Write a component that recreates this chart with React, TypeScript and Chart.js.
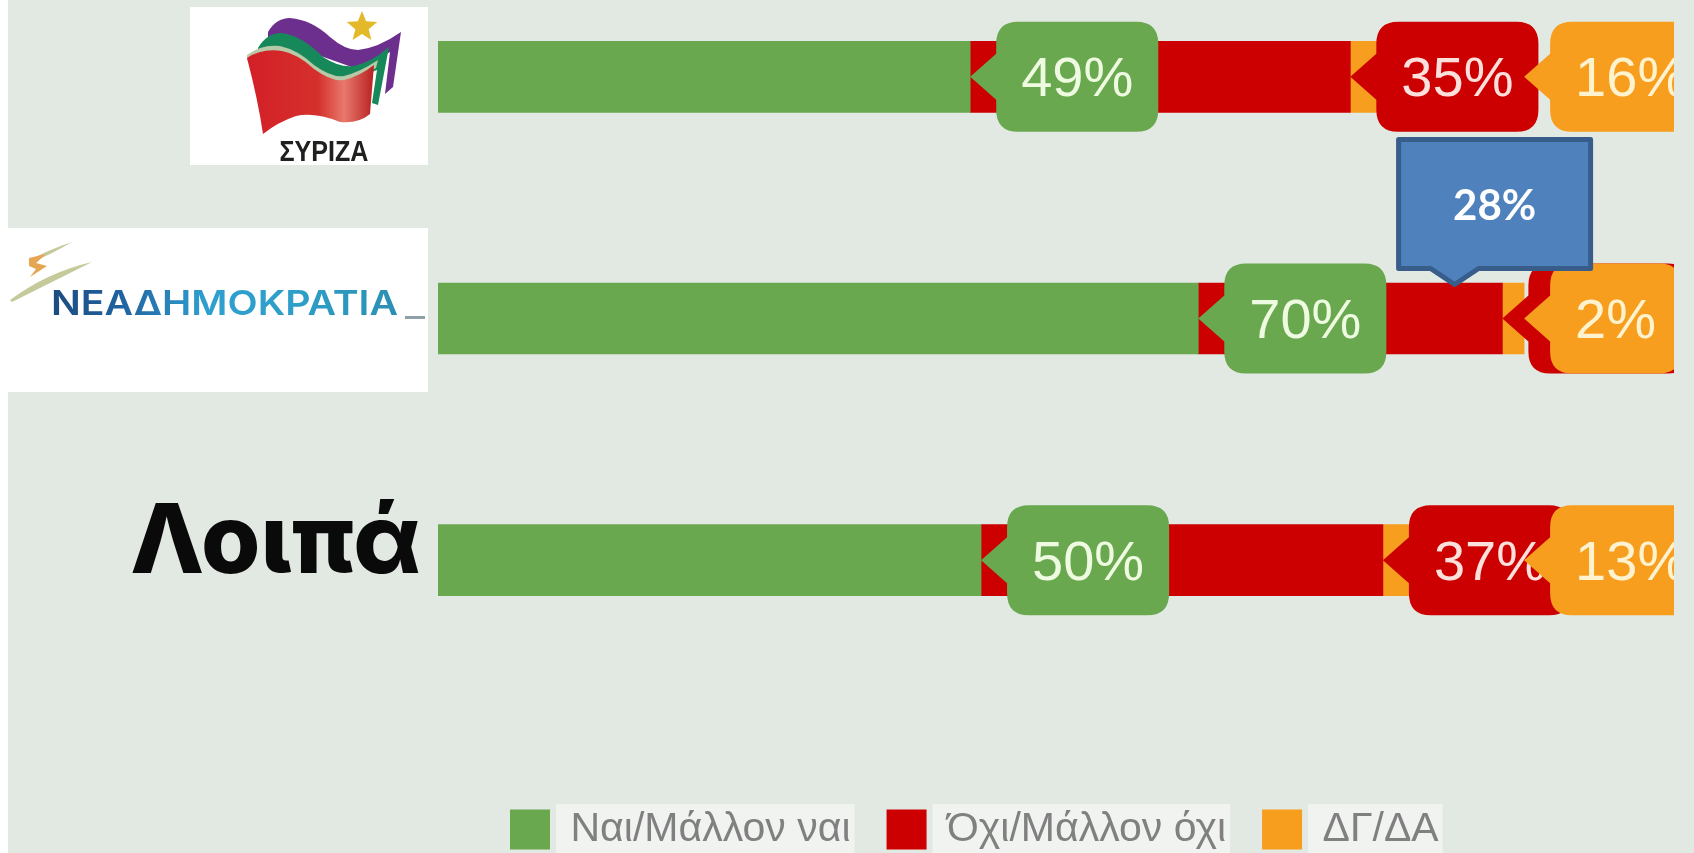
import React, { useEffect, useRef } from "react";
import { Chart, registerables } from "chart.js";

Chart.register(...registerables);

const categories = ["ΣΥΡΙΖΑ", "ΝΕΑ ΔΗΜΟΚΡΑΤΙΑ", "Λοιπά"];
const yesValues = [49, 70, 50];
const noValues = [35, 28, 37];
const dkValues = [16, 2, 13];
const seriesNames = ["Ναι/Μάλλον ναι", "Όχι/Μάλλον όχι", "ΔΓ/ΔΑ"];
const seriesColors = ["#69a84f", "#cc0000", "#f79e1f"];
const tagTextColors = ["#eefbe0", "#fde0dc", "#fff3cf"];
const calloutCategory = 1;
const calloutValue = 93.6;
const calloutLabel = "28%";
const AXIS_MAX = 113.8;

const PAGE_TOP = -44;
const CANVAS_HEIGHT = 930;

function roundRectPath(ctx: CanvasRenderingContext2D, x: number, y: number, w: number, h: number, tipX: number, cy: number) {
  const r = 22;
  ctx.beginPath();
  ctx.moveTo(x + r, y);
  ctx.lineTo(x + w - r, y);
  ctx.quadraticCurveTo(x + w, y, x + w, y + r);
  ctx.lineTo(x + w, y + h - r);
  ctx.quadraticCurveTo(x + w, y + h, x + w - r, y + h);
  ctx.lineTo(x + r, y + h);
  ctx.quadraticCurveTo(x, y + h, x, y + h - r);
  ctx.lineTo(x, cy + 23);
  ctx.lineTo(tipX, cy);
  ctx.lineTo(x, cy - 23);
  ctx.lineTo(x, y + r);
  ctx.quadraticCurveTo(x, y, x + r, y);
  ctx.closePath();
}

function poly(ctx: CanvasRenderingContext2D, fill: any, pts: number[][]) {
  ctx.fillStyle = fill;
  ctx.beginPath();
  ctx.moveTo(pts[0][0], pts[0][1]);
  for (let i = 1; i < pts.length; i++) {
    const p = pts[i];
    if (p.length === 4) ctx.quadraticCurveTo(p[0], p[1], p[2], p[3]);
    else ctx.lineTo(p[0], p[1]);
  }
  ctx.closePath();
  ctx.fill();
}

function drawSyriza(ctx: CanvasRenderingContext2D) {
  ctx.fillStyle = "#ffffff";
  ctx.fillRect(190, 7, 238, 158);
  poly(ctx, "#6d2f8e", [[268, 32], [276, 18, 290, 18], [312, 20, 330, 37], [345, 50, 358, 50], [378, 48, 401, 32], [393, 87], [385, 94], [390, 52], [360, 70], [290, 45], [268, 45]]);
  poly(ctx, "#17885a", [[258, 48], [266, 34, 280, 33], [300, 34, 323, 57], [340, 68, 354, 66], [372, 62, 389, 47], [378, 105], [372, 103], [377, 70], [340, 85], [280, 60], [258, 58]]);
  poly(ctx, "#b7c9a6", [[247, 55], [262, 44, 280, 46], [298, 50, 314, 65], [332, 78, 344, 76], [360, 72, 378, 60], [376, 68], [344, 84], [247, 60]]);
  const g = ctx.createLinearGradient(250, 0, 374, 0);
  g.addColorStop(0, "#d32027");
  g.addColorStop(0.55, "#d5302c");
  g.addColorStop(0.76, "#e8796c");
  g.addColorStop(1, "#b72020");
  poly(ctx, g, [[247, 58], [262, 48, 282, 51], [298, 54, 314, 69], [332, 82, 344, 80], [360, 76, 374, 65], [370, 114], [358, 124, 340, 122], [315, 112, 296, 116], [278, 122, 263, 134], [258, 100, 247, 58]]);
  ctx.fillStyle = "#e3b92a";
  ctx.beginPath();
  for (let i = 0; i < 10; i++) {
    const a = -Math.PI / 2 + (i * Math.PI) / 5;
    const r = i % 2 === 0 ? 16 : 7;
    ctx.lineTo(362 + r * Math.cos(a), 27 + r * Math.sin(a));
  }
  ctx.closePath();
  ctx.fill();
  ctx.save();
  ctx.fillStyle = "#20201f";
  ctx.font = 'bold 29px "Liberation Sans"';
  ctx.textAlign = "center";
  ctx.textBaseline = "alphabetic";
  const w = ctx.measureText(categories[0]).width;
  ctx.translate(324, 161);
  ctx.scale(89 / w, 1);
  ctx.fillText(categories[0], 0, 0);
  ctx.restore();
}

function drawNd(ctx: CanvasRenderingContext2D) {
  ctx.fillStyle = "#ffffff";
  ctx.fillRect(8, 228, 420, 164);
  poly(ctx, "#c6c99a", [[10, 300], [48, 272, 92, 262], [50, 283, 12, 302]]);
  poly(ctx, "#c6c99a", [[30, 260], [48, 250, 72, 242], [50, 255, 32, 262]]);
  poly(ctx, "#e6a552", [[29, 258], [46, 254], [36, 263], [47, 266], [30, 277], [36, 269], [29, 266]]);
  ctx.save();
  ctx.font = '600 34px Inter, "Liberation Sans"';
  ctx.textAlign = "left";
  ctx.textBaseline = "alphabetic";
  const label = categories[1].replace(" ", "");
  const w = ctx.measureText(label).width;
  const g = ctx.createLinearGradient(0, 0, w, 0);
  g.addColorStop(0, "#1c4c80");
  g.addColorStop(0.2, "#20629f");
  g.addColorStop(0.45, "#2f9fd0");
  g.addColorStop(0.7, "#2e9fc9");
  g.addColorStop(1, "#2b8fb2");
  ctx.translate(51, 315);
  ctx.scale(347 / w, 1);
  ctx.fillStyle = g;
  ctx.fillText(label, 0, 0);
  ctx.restore();
  ctx.fillStyle = "#8fa0a8";
  ctx.fillRect(405, 316, 20, 3);
}

const overlayPlugin = {
  id: "overlay",
  afterLayout(chart: any) {
    const legend = chart.legend;
    if (!legend) return;
    const before = legend.left;
    legend.left = 2 * 492 + legend.lineWidths[0] - legend.right;
    const shift = (legend.left - before) / 2;
    legend.legendHitBoxes.forEach((b: any) => {
      b.left += shift;
    });
  },
  beforeDraw(chart: any) {
    const { ctx, legend } = chart;
    ctx.save();
    ctx.fillStyle = "#f1f3f1";
    (legend?.legendHitBoxes ?? []).forEach((b: any) => {
      ctx.fillRect(b.left + 46, b.top - 5, b.width - 42, 52);
    });
    ctx.translate(0, -PAGE_TOP);
    drawSyriza(ctx);
    drawNd(ctx);
    ctx.restore();
  },
  afterDatasetsDraw(chart: any) {
    const { ctx, chartArea, scales } = chart;
    ctx.save();
    ctx.beginPath();
    ctx.rect(0, 0, chartArea.right, chart.height);
    ctx.clip();
    ctx.font = '56px "Liberation Sans", Arial';
    ctx.textBaseline = "middle";
    ctx.textAlign = "center";
    categories.forEach((_, row) => {
      let cum = 0;
      chart.data.datasets.forEach((ds: any, s: number) => {
        const v = ds.data[row];
        cum += v;
        const tipX = scales.x.getPixelForValue(cum);
        const cy = scales.y.getPixelForValue(row);
        const label = `${v}%`;
        const w = ctx.measureText(label).width + 50;
        const left = tipX + 26;
        ctx.fillStyle = seriesColors[s];
        roundRectPath(ctx, left, cy - 55, w, 110, tipX, cy);
        ctx.fill();
        ctx.fillStyle = tagTextColors[s];
        ctx.fillText(label, left + w / 2, cy + 4);
      });
    });
    ctx.restore();

    // blue callout box
    const tx = scales.x.getPixelForValue(calloutValue);
    const ty = scales.y.getPixelForValue(calloutCategory) - 34;
    const l = tx - 56;
    const r = tx + 136;
    const t = ty - 145;
    const b = ty - 16;
    ctx.save();
    ctx.beginPath();
    ctx.moveTo(l, t);
    ctx.lineTo(r, t);
    ctx.lineTo(r, b);
    ctx.lineTo(tx + 24, b);
    ctx.lineTo(tx, ty);
    ctx.lineTo(tx - 24, b);
    ctx.lineTo(l, b);
    ctx.closePath();
    ctx.fillStyle = "#4f81bd";
    ctx.fill();
    ctx.lineWidth = 5;
    ctx.strokeStyle = "#385d8a";
    ctx.lineJoin = "round";
    ctx.stroke();
    ctx.fillStyle = "#ffffff";
    ctx.font = 'bold 42px Lato, "Open Sans"';
    ctx.textAlign = "center";
    ctx.textBaseline = "middle";
    ctx.fillText(calloutLabel, (l + r) / 2, t + 67);
    ctx.restore();
  },
};

export default function App() {
  const ref = useRef<HTMLCanvasElement>(null);
  useEffect(() => {
    const chart = new Chart(ref.current!, {
      type: "bar",
      data: {
        labels: categories,
        datasets: [yesValues, noValues, dkValues].map((data, i) => ({
          label: seriesNames[i],
          data,
          backgroundColor: seriesColors[i],
          barThickness: 71,
          stack: "s",
        })),
      },
      options: {
        indexAxis: "y",
        responsive: false,
        animation: false,
        layout: { padding: { left: 0, right: 20, top: 0, bottom: 26 } },
        scales: {
          x: {
            stacked: true,
            min: 0,
            max: AXIS_MAX,
            grid: { display: false },
            border: { display: false },
            ticks: { display: false },
            afterFit(scale: any) {
              scale.height = 92;
              scale.paddingLeft = 0;
              scale.paddingRight = 0;
            },
          },
          y: {
            stacked: true,
            grid: { display: false },
            border: { display: false },
            ticks: {
              color: "#0a0a0a",
              padding: 9,
              font: { family: 'Inter, "Liberation Sans", Arial', size: 96, weight: 800, lineHeight: "32px" },
              callback(_v: any, i: number) {
                return i === 2 ? [categories[2], ""] : "";
              },
            },
            afterFit(scale: any) {
              scale.width = 438;
              scale.paddingTop = 0;
              scale.paddingBottom = 0;
            },
          },
        },
        plugins: {
          tooltip: { enabled: false },
          legend: {
            position: "bottom",
            onClick: () => {},
            labels: {
              boxWidth: 40,
              boxHeight: 40,
              padding: 36,
              color: "#808080",
              font: { family: '"Liberation Sans", Arial', size: 41 },
            },
          },
        },
      },
      plugins: [overlayPlugin],
    } as any);
    return () => chart.destroy();
  }, []);
  return (
    <div style={{ position: "fixed", inset: 0, overflow: "hidden", background: "#ffffff" }}>
      <div style={{ position: "absolute", left: 8, top: 0, right: 0, bottom: 0, background: "#e2e9e2" }} />
      <canvas
        ref={ref}
        width={1694}
        height={CANVAS_HEIGHT}
        style={{ position: "absolute", left: 0, top: PAGE_TOP, filter: "blur(0.5px)" }}
      />
    </div>
  );
}
